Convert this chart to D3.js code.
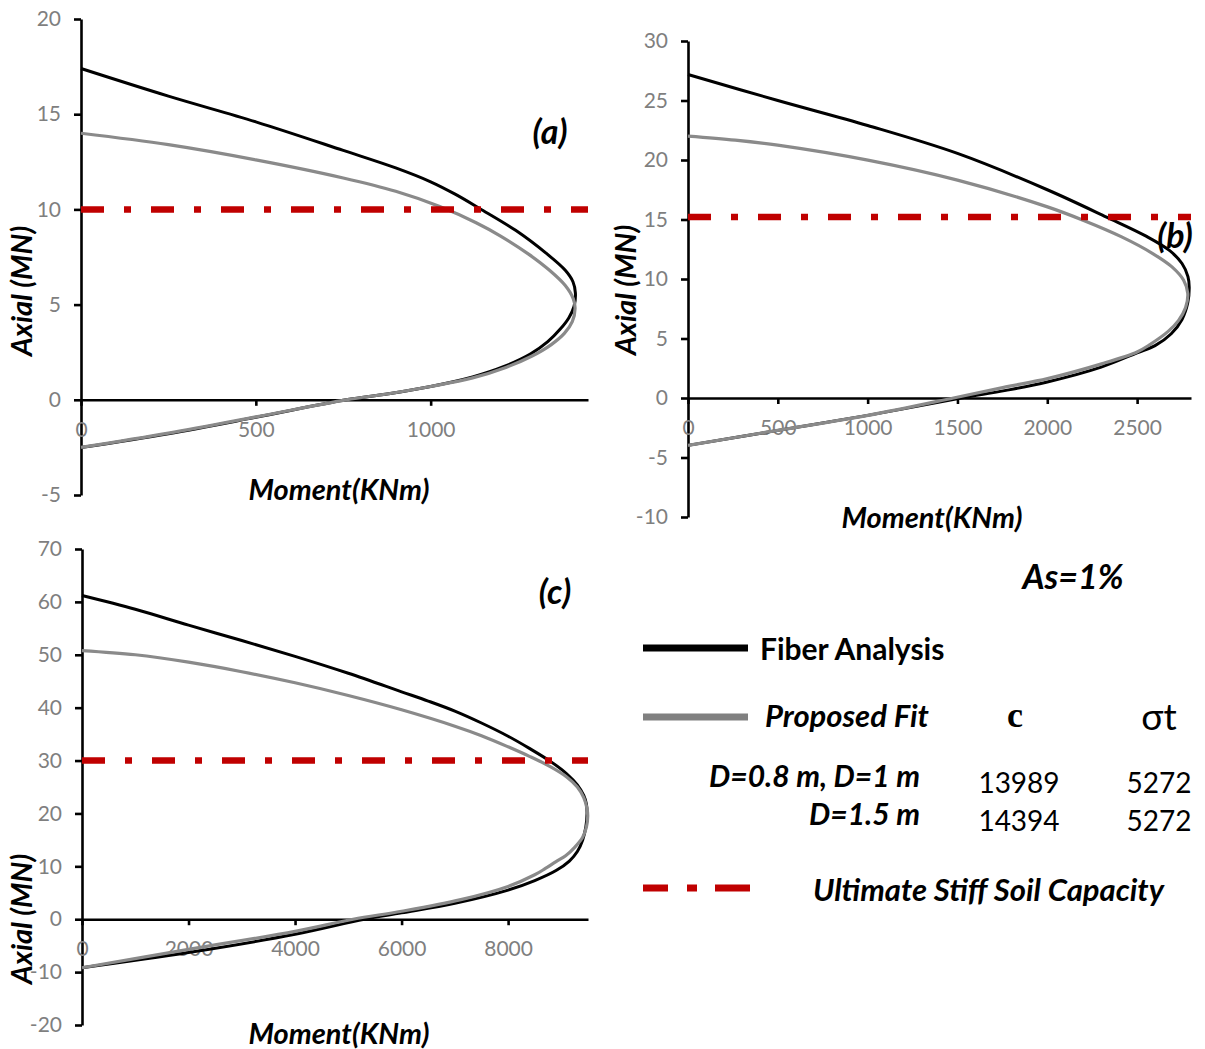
<!DOCTYPE html>
<html>
<head>
<meta charset="utf-8">
<script src="https://cdn.jsdelivr.net/npm/d3@7/dist/d3.min.js"></script>
<style>
  html, body { margin: 0; padding: 0; background: #fff; }
  svg { display: block; font-family: Lato, "Open Sans", sans-serif; }
</style>
</head>
<body>
<svg id="chart" width="1205" height="1049"></svg>
<script>
// ---- Interaction diagrams: moment (KNm) vs axial load (MN) ----

// (a) D = 0.8 m
const aFiberM = [0, 250, 500, 750, 900, 1000, 1070, 1140, 1243, 1330, 1385, 1407, 1414, 1410, 1395, 1370, 1335, 1285, 1210, 1120, 1000, 880, 758, 500, 250, 0];
const aFiberN = [17.4, 15.95, 14.6, 13.1, 12.18, 11.45, 10.8, 10.05, 8.9, 7.7, 6.8, 6.2, 5.6, 4.9, 4.3, 3.7, 3.05, 2.4, 1.75, 1.2, 0.7, 0.32, 0, -0.92, -1.78, -2.51];
const aFitM = [0, 250, 500, 750, 900, 1026, 1130, 1200, 1280, 1340, 1385, 1408, 1413, 1405, 1383, 1345, 1290, 1215, 1120, 1000, 880, 758, 500, 250, 0];
const aFitN = [14.0, 13.4, 12.6, 11.65, 10.95, 10.15, 9.3, 8.6, 7.65, 6.8, 6.0, 5.3, 4.8, 4.1, 3.5, 2.9, 2.3, 1.7, 1.15, 0.7, 0.32, 0, -0.9, -1.75, -2.5];
const aSoil = 10;
const aXTicks = [0, 500, 1000];
const aYTicks = [-5, 0, 5, 10, 15, 20];

// (b) D = 1 m
const bFiberM = [0, 500, 1000, 1500, 2000, 2330, 2550, 2680, 2750, 2783, 2790, 2782, 2750, 2690, 2600, 2500, 2300, 2000, 1770, 1521, 1000, 500, 0];
const bFiberN = [27.19, 25.0, 22.9, 20.55, 17.5, 15.2, 13.6, 12.4, 11.3, 10.2, 9.3, 8.0, 6.6, 5.4, 4.4, 3.8, 2.6, 1.35, 0.64, 0, -1.46, -2.72, -3.98];
const bFitM = [0, 263, 499, 1001, 1500, 2001, 2199, 2414, 2587, 2694, 2759, 2782, 2770, 2730, 2673, 2565, 2500, 2307, 2001, 1769, 1478, 1001, 499, 0];
const bFitN = [22.01, 21.67, 21.25, 19.99, 18.31, 16.06, 14.94, 13.54, 12.14, 11.02, 9.9, 8.8, 7.6, 6.5, 5.6, 4.43, 3.87, 2.89, 1.63, 0.93, 0, -1.46, -2.72, -3.98];
const bSoil = 15.2;
const bXTicks = [0, 500, 1000, 1500, 2000, 2500];
const bYTicks = [-10, -5, 0, 5, 10, 15, 20, 25, 30];

// (c) D = 1.5 m
const cFiberM = [0, 1000, 2000, 3000, 4000, 5000, 6000, 6500, 7000, 7500, 8000, 8400, 8800, 9100, 9300, 9420, 9470, 9482, 9460, 9400, 9300, 9150, 8900, 8500, 8000, 7000, 6000, 5300, 4000, 2000, 0];
const cFiberN = [61.2, 58.6, 55.6, 52.7, 49.7, 46.5, 43.0, 41.25, 39.35, 37.1, 34.6, 32.3, 29.8, 27.5, 25.4, 23.4, 21.8, 20.0, 17.5, 15.0, 12.8, 11.0, 9.2, 7.3, 5.5, 3.0, 1.2, 0, -2.85, -6.3, -9.17];
const cFitM = [0, 1000, 2000, 3000, 4000, 5000, 6000, 7000, 7500, 8000, 8400, 8800, 9100, 9300, 9420, 9480, 9495, 9470, 9400, 9250, 9080, 8900, 8700, 8500, 8000, 7112, 6000, 5090, 4000, 2000, 0];
const cFitN = [50.8, 50.0, 48.6, 46.8, 44.7, 42.3, 39.6, 36.5, 34.7, 32.6, 30.8, 28.8, 26.9, 25.0, 23.0, 21.0, 19.5, 17.4, 15.5, 13.6, 12.0, 10.9, 9.6, 8.4, 6.2, 3.7, 1.5, 0, -2.3, -5.7, -9.17];
const cSoil = 30;
const cXTicks = [0, 2000, 4000, 6000, 8000];
const cYTicks = [-20, -10, 0, 10, 20, 30, 40, 50, 60, 70];

// Legend / table text
const panelTags = ["(a)", "(b)", "(c)"];
const seriesNames = ["Fiber Analysis", "Proposed Fit", "Ultimate Stiff Soil Capacity"];
const tableHead = ["c", "σt"];
const tableRows = ["D=0.8 m, D=1 m", "D=1.5 m"];
const tableC = [13989, 14394];
const tableSigma = [5272, 5272];

const COL_FIBER = "#000000";
const COL_FIT = "#8a8a8a";
const COL_SOIL = "#c00000";
const COL_TICK = "#7f7f7f";

const svg = d3.select("#chart");
svg.append("rect").attr("width", 1205).attr("height", 1049).attr("fill", "#fff");

const zip = (ms, ns) => ms.map((m, i) => [m, ns[i]]);
const plain = d => String(d);

const panels = [
  { tag: panelTags[0], box: { l: 81, r: 588, t: 19, b: 495 }, xMax: 1450, yDom: [-5, 20],
    fiber: zip(aFiberM, aFiberN), fit: zip(aFitM, aFitN), soil: aSoil, xTicks: aXTicks, yTicks: aYTicks,
    tagPos: [550, 144], xTitle: [339, 500], yTitle: [22, 291] },
  { tag: panelTags[1], box: { l: 688, r: 1191, t: 41, b: 517 }, xMax: 2800, yDom: [-10, 30],
    fiber: zip(bFiberM, bFiberN), fit: zip(bFitM, bFitN), soil: bSoil, xTicks: bXTicks, yTicks: bYTicks,
    tagPos: [1175, 248], xTitle: [932, 528], yTitle: [626, 290] },
  { tag: panelTags[2], box: { l: 82, r: 588, t: 549, b: 1025 }, xMax: 9500, yDom: [-20, 70],
    fiber: zip(cFiberM, cFiberN), fit: zip(cFitM, cFitN), soil: cSoil, xTicks: cXTicks, yTicks: cYTicks,
    tagPos: [555, 604], xTitle: [339, 1044], yTitle: [22, 919] }
];

panels.forEach(p => {
  const g = svg.append("g");
  const x = d3.scaleLinear().domain([0, p.xMax]).range([p.box.l, p.box.r]);
  const y = d3.scaleLinear().domain(p.yDom).range([p.box.b, p.box.t]);

  // y axis
  const yAx = g.append("g")
    .attr("transform", `translate(${p.box.l},0)`)
    .call(d3.axisLeft(y).tickValues(p.yTicks).tickFormat(plain)
      .tickSize(7).tickSizeOuter(0).tickPadding(13));
  // x axis crossing at zero axial load
  const xAx = g.append("g")
    .attr("transform", `translate(0,${y(0)})`)
    .call(d3.axisBottom(x).tickValues(p.xTicks).tickFormat(plain)
      .tickSize(6).tickSizeOuter(0).tickPadding(16));
  [yAx, xAx].forEach(ax => {
    ax.select(".domain").attr("stroke", "#000").attr("stroke-width", 2.6);
    ax.selectAll(".tick line").attr("stroke", "#000").attr("stroke-width", 2.6);
    ax.selectAll(".tick text").attr("fill", COL_TICK).style("font-size", "21px")
      .style("font-family", "Lato, sans-serif");
  });

  const line = d3.line().x(d => x(d[0])).y(d => y(d[1])).curve(d3.curveCatmullRom.alpha(0.5));

  g.append("path").attr("d", line(p.fiber)).attr("fill", "none")
    .attr("stroke", COL_FIBER).attr("stroke-width", 3);
  g.append("path").attr("d", line(p.fit)).attr("fill", "none")
    .attr("stroke", COL_FIT).attr("stroke-width", 3.2);

  // soil capacity limit
  g.append("line")
    .attr("x1", x(0)).attr("x2", x(p.xMax))
    .attr("y1", y(p.soil)).attr("y2", y(p.soil))
    .attr("stroke", COL_SOIL).attr("stroke-width", 6.5)
    .attr("stroke-dasharray", "23 20 7 20");

  // panel tag
  g.append("text").attr("x", p.tagPos[0]).attr("y", p.tagPos[1])
    .attr("text-anchor", "middle").style("font-size", "34px")
    .style("font-weight", "bold").style("font-style", "italic").text(p.tag);

  // axis titles
  g.append("text").attr("x", p.xTitle[0]).attr("y", p.xTitle[1])
    .attr("text-anchor", "middle").style("font-size", "29px")
    .style("font-weight", "bold").style("font-style", "italic").text("Moment(KNm)");
  g.append("text")
    .attr("transform", `translate(${p.yTitle[0] + 10},${p.yTitle[1]}) rotate(-90)`)
    .attr("text-anchor", "middle").style("font-size", "29px")
    .style("font-weight", "bold").style("font-style", "italic").text("Axial (MN)");
});

// ---- legend and coefficient table ----
const lg = svg.append("g");
lg.append("text").attr("x", 1073).attr("y", 589).attr("text-anchor", "middle")
  .style("font-size", "34px").style("font-weight", "bold").style("font-style", "italic").text("As=1%");

lg.append("line").attr("x1", 643).attr("x2", 748).attr("y1", 648).attr("y2", 648)
  .attr("stroke", COL_FIBER).attr("stroke-width", 7);
lg.append("text").attr("x", 760).attr("y", 660)
  .style("font-size", "30px").style("font-weight", "bold").text(seriesNames[0]);

lg.append("line").attr("x1", 643).attr("x2", 748).attr("y1", 717).attr("y2", 717)
  .attr("stroke", "#808080").attr("stroke-width", 7);
lg.append("text").attr("x", 765).attr("y", 727)
  .style("font-size", "31px").style("font-weight", "bold").style("font-style", "italic").text(seriesNames[1]);

lg.append("text").attr("x", 1015).attr("y", 727).attr("text-anchor", "middle")
  .style("font-family", "'Liberation Serif', serif").style("font-size", "36px")
  .style("font-weight", "bold").text(tableHead[0]);
lg.append("text").attr("x", 1159).attr("y", 730).attr("text-anchor", "middle")
  .style("font-size", "37px").text(tableHead[1]);

tableRows.forEach((r, i) => {
  const yb = 787 + i * 38;
  lg.append("text").attr("x", 920).attr("y", yb).attr("text-anchor", "end")
    .style("font-size", "30px").style("font-weight", "bold").style("font-style", "italic").text(r);
  lg.append("text").attr("x", 1019).attr("y", yb + 6).attr("text-anchor", "middle")
    .style("font-size", "28px").text(tableC[i]);
  lg.append("text").attr("x", 1159).attr("y", yb + 6).attr("text-anchor", "middle")
    .style("font-size", "28px").text(tableSigma[i]);
});

lg.append("line").attr("x1", 643).attr("x2", 750).attr("y1", 888).attr("y2", 888)
  .attr("stroke", COL_SOIL).attr("stroke-width", 7)
  .attr("stroke-dasharray", "25 19 10 18 35");
lg.append("text").attr("x", 813).attr("y", 901)
  .style("font-size", "31px").style("font-weight", "bold").style("font-style", "italic").text(seriesNames[2]);
</script>
</body>
</html>
